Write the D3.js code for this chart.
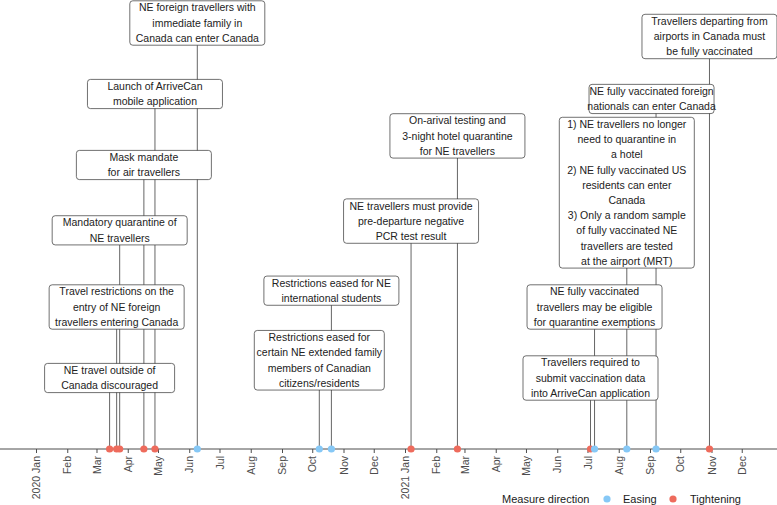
<!DOCTYPE html>
<html>
<head>
<meta charset="utf-8">
<script src="https://cdn.jsdelivr.net/npm/d3@7"></script>
<style>
	body { margin: 0; background: #fff; }
	svg { display: block; font-family: "Liberation Sans", Arial, sans-serif; }
</style>
</head>
<body>
<div id="chart"></div>
<script>
"use strict";

// one entry per border measure, in date order
var eventDates = [
	"2020-03-14", "2020-03-21", "2020-03-24", "2020-04-17", "2020-04-28",
	"2020-06-09", "2020-10-08", "2020-10-20", "2021-01-07", "2021-02-22",
	"2021-07-04", "2021-07-08", "2021-08-09", "2021-09-07", "2021-10-30"
];

var directions = [
	"Tightening", "Tightening", "Tightening", "Tightening", "Tightening",
	"Easing", "Easing", "Easing", "Tightening", "Tightening",
	"Tightening", "Easing", "Easing", "Easing", "Tightening"
];

var labelLines = [
	["NE travel outside of", "Canada discouraged"],
	["Travel restrictions on the", "entry of NE foreign", "travellers entering Canada"],
	["Mandatory quarantine of", "NE travellers"],
	["Mask mandate", "for air travellers"],
	["Launch of ArriveCan", "mobile application"],
	["NE foreign travellers with", "immediate family in", "Canada can enter Canada"],
	["Restrictions eased for", "certain NE extended family", "members of Canadian", "citizens/residents"],
	["Restrictions eased for NE", "international students"],
	["NE travellers must provide", "pre-departure negative", "PCR test result"],
	["On-arival testing and", "3-night hotel quarantine", "for NE travellers"],
	["Travellers required to", "submit vaccination data", "into ArriveCan application"],
	["NE fully vaccinated", "travellers may be eligible", "for quarantine exemptions"],
	["1) NE travellers no longer", "need to quarantine in", "a hotel", "2) NE fully vaccinated US",
		"residents can enter", "Canada", "3) Only a random sample", "of fully vaccinated NE",
		"travellers are tested", "at the airport (MRT)"],
	["NE fully vaccinated foreign", "nationals can enter Canada"],
	["Travellers departing from", "airports in Canada must", "be fully vaccinated"]
];

// height of each label above the axis (label centre, in stacking levels)
var labelHeights = [1, 2, 3.08, 4, 5, 6, 1.25, 2.23, 3.21, 4.41, 1, 2, 3.61, 4.93, 5.81];

var directionNames = ["Easing", "Tightening"];
var directionColors = ["#86C8F6", "#EE6B5C"];

// layout
var width = 777, height = 505;
var axisY = 449;
var lineH = 15.2;
var boxW = 135;
// a few labels are drawn narrower / nudged
var boxWidthOverride = { 0: 130, 6: 130, 13: 125 };
var boxNudge = { 13: -4.5 };

var parseDay = d3.utcParse("%Y-%m-%d");

var events = eventDates.map(function (d, i) {
	return {
		date: parseDay(d),
		dir: directions[i],
		lines: labelLines[i],
		level: labelHeights[i],
		w: boxWidthOverride[i] || boxW,
		nudge: boxNudge[i] || 0
	};
});

var x = d3.scaleUtc()
	.domain([parseDay("2020-01-01"), parseDay("2021-01-01")])
	.range([36, 405]);

var y = d3.scaleLinear()
	.domain([0, 1])
	.range([axisY, axisY - 71]);

var color = d3.scaleOrdinal()
	.domain(directionNames)
	.range(directionColors);

var svg = d3.select("#chart")
	.append("svg")
	.attr("width", width)
	.attr("height", height);

// axis line across the whole panel
svg.append("line")
	.attr("x1", 0)
	.attr("x2", width)
	.attr("y1", axisY)
	.attr("y2", axisY)
	.style("stroke", "#4d4d4d")
	.style("stroke-width", 1);

var monthTicks = d3.utcMonth.range(parseDay("2020-01-01"), parseDay("2022-01-01"));
var fmtMonth = d3.utcFormat("%b");
var fmtYear = d3.utcFormat("%Y %b");

var xAxis = d3.axisBottom(x)
	.tickValues(monthTicks)
	.tickSize(4)
	.tickFormat(function (d) {
		return d.getUTCMonth() === 0 ? fmtYear(d) : fmtMonth(d);
	});

var gx = svg.append("g")
	.attr("transform", "translate(0," + axisY + ")")
	.call(xAxis);

gx.select(".domain").remove();
gx.selectAll(".tick line")
	.style("stroke", "#4d4d4d");
gx.selectAll(".tick text")
	.attr("transform", "rotate(-90)")
	.attr("x", -7)
	.attr("y", 0)
	.attr("dy", "0.35em")
	.style("text-anchor", "end")
	.style("font-family", "'Liberation Sans', Arial, sans-serif")
	.style("font-size", "10.5px")
	.style("fill", "#4d4d4d");

// stems from each event to its label
svg.append("g")
	.selectAll("line")
	.data(events)
	.enter().append("line")
	.attr("x1", function (d) { return x(d.date); })
	.attr("x2", function (d) { return x(d.date); })
	.attr("y1", axisY)
	.attr("y2", function (d) { return y(d.level); })
	.style("stroke", "#555")
	.style("stroke-width", 0.9);

// labels
var labels = svg.append("g")
	.selectAll("g")
	.data(events)
	.enter().append("g")
	.attr("transform", function (d) {
		var h = (d.lines.length - 1) * lineH + 14;
		return "translate(" + (x(d.date) + d.nudge) + "," + (y(d.level) - h / 2) + ")";
	});

labels.append("rect")
	.attr("x", function (d) { return -d.w / 2; })
	.attr("y", 0)
	.attr("width", function (d) { return d.w; })
	.attr("height", function (d) { return (d.lines.length - 1) * lineH + 14; })
	.attr("rx", 3)
	.style("fill", "#fff")
	.style("stroke", "#333")
	.style("stroke-width", 0.7);

labels.each(function (d) {
	d3.select(this).selectAll("text")
		.data(d.lines)
		.enter().append("text")
		.attr("x", 0)
		.attr("y", function (t, i) { return 7 + i * lineH; })
		.attr("dy", "0.35em")
		.style("text-anchor", "middle")
		.style("font-size", "10.5px")
		.style("fill", "#222")
		.text(function (t) { return t; });
});

// event points on the axis
svg.append("g")
	.selectAll("circle")
	.data(events)
	.enter().append("circle")
	.attr("cx", function (d) { return x(d.date); })
	.attr("cy", axisY)
	.attr("r", 3.6)
	.style("fill", function (d) { return color(d.dir); });

// legend
var legend = svg.append("g")
	.attr("transform", "translate(502,499)");

legend.append("text")
	.attr("x", 0)
	.attr("dy", "0.35em")
	.style("font-size", "11px")
	.style("fill", "#1a1a1a")
	.text("Measure direction");

var legendPos = [[105, 121], [171, 188]];

directionNames.forEach(function (name, i) {
	legend.append("circle")
		.attr("cx", legendPos[i][0])
		.attr("cy", 0)
		.attr("r", 3.6)
		.style("fill", color(name));
	legend.append("text")
		.attr("x", legendPos[i][1])
		.attr("dy", "0.35em")
		.style("font-size", "11px")
		.style("fill", "#1a1a1a")
		.text(name);
});
</script>
</body>
</html>
